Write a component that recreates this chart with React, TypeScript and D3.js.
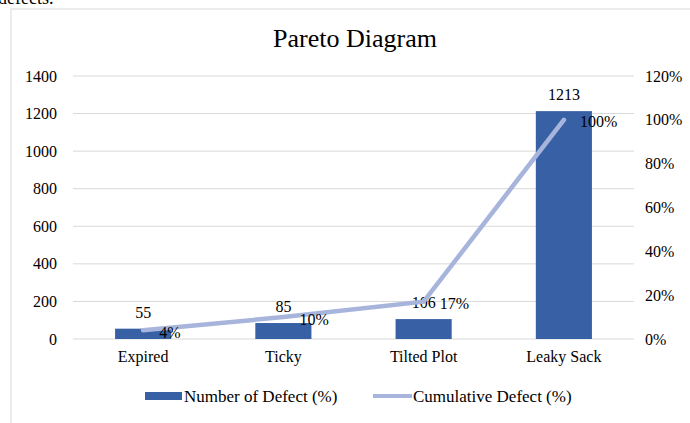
import React from 'react';
import * as d3 from 'd3';

const categories = ['Expired', 'Ticky', 'Tilted Plot', 'Leaky Sack'];
const defects = [55, 85, 106, 1213];
const cumulative = [0.04, 0.10, 0.17, 1.0];
const cumulativeLabels = ['4%', '10%', '17%', '100%'];
const leftTicks = [0, 200, 400, 600, 800, 1000, 1200, 1400];
const rightTicks = [0, 0.2, 0.4, 0.6, 0.8, 1.0, 1.2];

const W = 690;
const H = 423;
const font = '"Liberation Serif", "Times New Roman", serif';
const barColor = '#3760a5';
const lineColor = '#a7b5dc';
const gridColor = '#d9d9d9';

export default function App() {
  const x = d3.scaleBand<string>().domain(categories).range([73, 634]).paddingInner(0.6).paddingOuter(0.3);
  const y = d3.scaleLinear().domain([0, 1400]).range([339, 76]);
  const yR = d3.scaleLinear().domain([0, 1.2]).range([339, 76]);
  const cx = (c: string) => (x(c) ?? 0) + x.bandwidth() / 2;

  const line = d3.line<number>()
    .x((_, i) => cx(categories[i]))
    .y(d => yR(d));

  return (
    <div style={{ position: 'absolute', left: 0, top: 0 }}>
      <svg width={W} height={H} style={{ display: 'block', background: '#fff' }} fontFamily={font}>
        <text x={-2} y={4} fontSize={18} fill="#000">defects.</text>
        <rect x={11} y={9} width={W} height={H} fill="#fff" stroke={gridColor} strokeWidth={1} />
        <text x={355} y={47} textAnchor="middle" fontSize={26} fill="#000">Pareto Diagram</text>

        {leftTicks.map(t => (
          <g key={'l' + t}>
            <line x1={73} x2={634} y1={y(t)} y2={y(t)} stroke={gridColor} strokeWidth={1} />
            <text x={57} y={y(t)} dy="0.35em" textAnchor="end" fontSize={16} fill="#000">{t}</text>
          </g>
        ))}
        {rightTicks.map(t => (
          <text key={'r' + t} x={645} y={yR(t)} dy="0.35em" fontSize={16} fill="#000">
            {Math.round(t * 100) + '%'}
          </text>
        ))}

        {categories.map((c, i) => (
          <g key={c}>
            <rect x={x(c)} y={y(defects[i])} width={x.bandwidth()} height={y(0) - y(defects[i])} fill={barColor} />
            <text x={cx(c)} y={y(defects[i]) - 11} textAnchor="middle" fontSize={16} fill="#000">{defects[i]}</text>
            <text x={cx(c)} y={362} textAnchor="middle" fontSize={16} fill="#000">{c}</text>
          </g>
        ))}

        <path d={line(cumulative) ?? ''} fill="none" stroke={lineColor} strokeWidth={4.5} strokeLinecap="round" />
        {categories.map((c, i) => (
          <text key={'p' + c} x={cx(c) + 16} y={yR(cumulative[i]) + 2} dy="0.35em" fontSize={16} fill="#000">
            {cumulativeLabels[i]}
          </text>
        ))}

        <rect x={145} y={392} width={37} height={8} fill={barColor} />
        <text x={184} y={396} dy="0.35em" fontSize={17} fill="#000">Number of Defect (%)</text>
        <line x1={373} x2={412} y1={396} y2={396} stroke={lineColor} strokeWidth={4} />
        <text x={413} y={396} dy="0.35em" fontSize={17} fill="#000">Cumulative Defect (%)</text>
      </svg>
    </div>
  );
}
